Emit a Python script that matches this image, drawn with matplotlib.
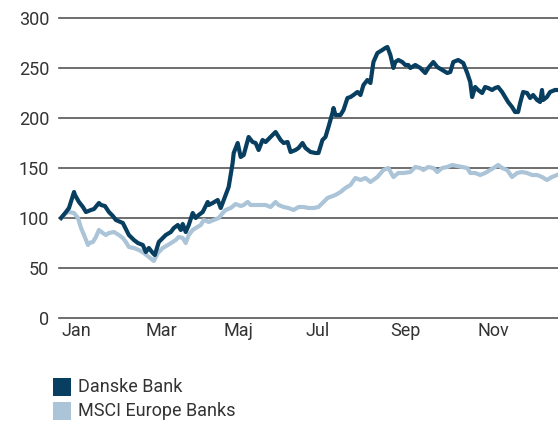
import matplotlib
matplotlib.use("Agg")
import matplotlib.pyplot as plt
from matplotlib.patches import Rectangle

# ---- data (day of year, indexed value) ----
danske_days = [1.5, 5.1, 7.3, 11.0, 11.7, 14.6, 17.5, 19.7, 23.4, 25.6, 29.2, 30.7, 33.6, 36.5,
               39.4, 41.6, 46.7, 51.1, 54.8, 57.7, 61.3, 63.5, 65.7, 68.6, 70.1, 73.0, 78.1,
               81.8, 84.0, 86.9, 89.1, 90.5, 92.7, 94.9, 97.8, 100.0, 102.2, 105.1, 108.8,
               109.5, 112.4, 116.1, 118.3, 120.5, 124.1, 127.0, 127.8, 130.7, 132.9, 135.1,
               138.7, 141.6, 143.8, 146.0, 148.9, 151.1, 154.8, 158.4, 162.1, 164.3, 167.2,
               169.4, 173.0, 175.2, 178.1, 180.3, 184.0, 187.6, 189.8, 192.7, 194.9, 197.1,
               200.0, 200.8, 202.2, 205.9, 208.1, 211.0, 213.2, 215.4, 218.3, 220.5, 222.7,
               225.6, 227.8, 230.0, 232.9, 236.5, 238.7, 240.2, 242.4, 244.6, 246.0, 248.2,
               251.1, 253.3, 255.5, 257.0, 260.6, 264.3, 267.9, 270.1, 273.8, 276.7, 280.3,
               284.0, 286.2, 288.4, 292.0, 295.7, 298.6, 300.8, 302.2, 304.4, 306.6, 309.5,
               311.7, 313.9, 316.8, 319.0, 321.2, 324.1, 326.3, 328.5, 331.4, 333.6, 335.8,
               337.3, 339.5, 342.4, 344.6, 346.8, 349.7, 351.9, 353.3, 354.1, 356.9, 359.2,
               362.8, 365.0]
danske_vals = [100, 106, 110, 126, 123, 116, 111, 106, 108, 109, 115, 113, 112, 106,
               102, 98, 95, 83, 78, 75, 73, 66, 70, 65, 63, 76, 83,
               86, 90, 93, 88, 94, 86, 93, 105, 100, 103, 106, 116,
               113, 115, 118, 110, 118, 131, 155, 165, 175, 161, 163,
               181, 176, 175, 168, 178, 176, 181, 186, 178, 175, 176,
               166, 168, 170, 175, 170, 166, 165, 165, 178, 181, 191,
               205, 210, 203, 203, 208, 220, 221, 223, 226, 223, 233,
               238, 235, 256, 265, 268, 270, 271, 263, 250, 256, 258,
               256, 253, 253, 250, 253, 250, 245, 250, 256, 251, 248,
               245, 246, 256, 258, 255, 245, 236, 221, 231, 228, 225,
               231, 230, 228, 230, 231, 226, 221, 216, 211, 206, 206,
               215, 226, 225, 220, 223, 218, 216, 228, 218, 221, 226,
               228, 228]

msci_days = [1.5, 5.1, 7.3, 11.0, 13.9, 16.1, 18.3, 21.2, 21.9, 24.8, 27.0, 29.2, 32.1, 34.3,
             36.5, 40.2, 43.8, 46.7, 48.9, 51.1, 54.8, 58.4, 62.1, 65.7, 69.4, 72.3, 75.9,
             79.6, 83.2, 85.4, 87.6, 90.5, 92.7, 94.9, 97.8, 100.0, 103.7, 105.9, 109.5,
             113.2, 116.8, 119.7, 121.9, 125.6, 129.2, 132.9, 135.1, 138.0, 140.2, 143.8,
             147.5, 151.1, 154.8, 158.4, 160.6, 164.3, 167.9, 171.6, 175.2, 178.9, 182.5,
             186.2, 189.8, 193.5, 196.4, 202.2, 205.9, 209.5, 213.2, 216.8, 220.5, 224.1,
             227.8, 232.9, 237.3, 240.9, 244.6, 248.2, 251.9, 257.0, 260.6, 264.3, 266.5,
             270.1, 273.8, 276.7, 280.3, 284.0, 287.6, 291.3, 294.9, 298.6, 300.8, 304.4,
             308.1, 311.7, 315.4, 319.0, 321.2, 324.1, 327.8, 331.4, 335.1, 338.7, 342.4,
             346.0, 349.7, 353.3, 356.9, 360.6, 364.3]
msci_vals = [100, 105, 106, 105, 100, 90, 83, 73, 75, 76, 81, 88, 85, 83,
             85, 86, 83, 80, 76, 71, 70, 68, 65, 61, 57, 65, 70,
             73, 76, 78, 81, 80, 75, 83, 88, 90, 93, 98, 96,
             98, 100, 105, 108, 110, 114, 112, 113, 116, 113, 113,
             113, 113, 111, 116, 113, 111, 110, 108, 111, 111, 110,
             110, 111, 116, 120, 123, 126, 130, 133, 140, 138, 140,
             136, 141, 148, 150, 141, 145, 145, 146, 151, 150, 148,
             151, 150, 146, 150, 151, 153, 152, 151, 150, 145, 145,
             143, 145, 148, 151, 153, 150, 148, 141, 145, 146, 145,
             143, 143, 141, 138, 141, 143]

month_labels = ["Jan", "Mar", "Maj", "Jul", "Sep", "Nov"]
month_pos = [12.4, 75.2, 131.4, 189.0, 253.3, 317.6]
y_ticks = [0, 50, 100, 150, 200, 250, 300]
series_names = ["Danske Bank", "MSCI Europe Banks"]

DARK = "#083F61"
LIGHT = "#ABC4D7"
TEXT = "#333333"
GRID = "#555555"
FS = 13

plt.rcParams["font.family"] = ["Roboto", "DejaVu Sans"]

W, H = 558, 423
fig = plt.figure(figsize=(W / 100, H / 100), dpi=100)
ax = fig.add_axes([59 / W, (H - 318) / H, 499 / W, 300 / H])

ax.set_xlim(0, 365)
ax.set_ylim(0, 300)
for s in ax.spines.values():
    s.set_visible(False)
ax.set_yticks(y_ticks)
ax.yaxis.grid(True, color=GRID, linewidth=1.2)
ax.set_axisbelow(True)
ax.tick_params(axis="both", length=0, labelsize=FS, labelcolor=TEXT)
ax.tick_params(axis="y", pad=7)
ax.tick_params(axis="x", pad=3)
ax.set_xticks(month_pos)
ax.set_xticklabels(month_labels)
for g in ax.get_ygridlines():
    g.set_clip_on(False)

ax.plot(msci_days, msci_vals, color=LIGHT, linewidth=3.0, solid_joinstyle="round", zorder=3)
ax.plot(danske_days, danske_vals, color=DARK, linewidth=3.0, solid_joinstyle="round", zorder=4)

# legend
for i, (name, col) in enumerate(zip(series_names, [DARK, LIGHT])):
    y0 = 378 + i * 24
    fig.add_artist(Rectangle((53 / W, (H - y0 - 18) / H), 18 / W, 18 / H,
                             transform=fig.transFigure, color=col, linewidth=0))
    fig.text(78 / W, (H - y0 - 9) / H, name, fontsize=FS, color=TEXT, va="center", ha="left")

fig.savefig("out.png", dpi=100)
